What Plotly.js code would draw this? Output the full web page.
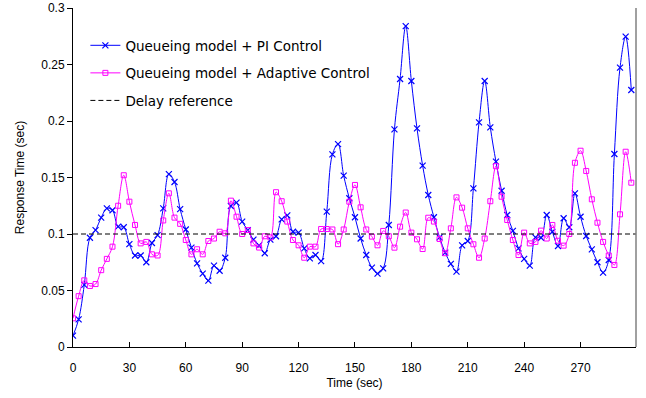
<!DOCTYPE html>
<html>
<head>
<meta charset="utf-8">
<script src="https://cdn.plot.ly/plotly-3.0.1.min.js"></script>
<style>html,body{margin:0;padding:0;background:#fff;}#chart{width:646px;height:398px;}</style>
</head>
<body>
<div id="chart"></div>
<script>
// time stamps (sec), one sample every 3 s
var timeSec = [];
for (var i = 0; i < 100; i++) timeSec.push(i * 3);

var piControl = [
  0.010, 0.0245, 0.055, 0.0967, 0.1035, 0.1145, 0.1227, 0.121, 0.1065, 0.106,
  0.091, 0.081, 0.081, 0.075, 0.092, 0.099, 0.1227, 0.153, 0.146, 0.122,
  0.104, 0.088, 0.074, 0.065, 0.0587, 0.072, 0.0675, 0.079, 0.1248, 0.1277,
  0.111, 0.1035, 0.095, 0.090, 0.083, 0.095, 0.098, 0.113, 0.1165, 0.102,
  0.1012, 0.0873, 0.0785, 0.0814, 0.076, 0.1198, 0.1705, 0.1796, 0.1516, 0.1316,
  0.1148, 0.096, 0.0814, 0.0702, 0.065, 0.0696, 0.108, 0.1926, 0.2372, 0.284,
  0.2354, 0.1935, 0.1605, 0.1345, 0.1148, 0.097, 0.0835, 0.0735, 0.0667, 0.090,
  0.0938, 0.1404, 0.1988, 0.2354, 0.1944, 0.164, 0.1383, 0.1168, 0.1027, 0.0873,
  0.078, 0.072, 0.097, 0.0967, 0.1168, 0.102, 0.0894, 0.1139, 0.106, 0.136,
  0.1153, 0.0982, 0.0864, 0.075, 0.0658, 0.077, 0.1708, 0.2472, 0.2746, 0.2274
];

var adaptiveControl = [
  0.0254, 0.045, 0.059, 0.054, 0.0557, 0.068, 0.078, 0.0888, 0.125, 0.152,
  0.1286, 0.108, 0.0917, 0.093, 0.082, 0.081, 0.112, 0.136, 0.1145, 0.109,
  0.0947, 0.082, 0.0865, 0.082, 0.0938, 0.096, 0.102, 0.1006, 0.1295, 0.1153,
  0.100, 0.1035, 0.0917, 0.088, 0.098, 0.097, 0.137, 0.129, 0.111, 0.0947,
  0.090, 0.079, 0.0888, 0.0888, 0.1044, 0.1044, 0.104, 0.091, 0.104, 0.1286,
  0.1434, 0.1236, 0.104, 0.0977, 0.090, 0.1027, 0.098, 0.0879, 0.1065, 0.119,
  0.1012, 0.0953, 0.0867, 0.1144, 0.111, 0.0956, 0.083, 0.105, 0.1324, 0.1233,
  0.105, 0.0909, 0.079, 0.096, 0.129, 0.160, 0.133, 0.1124, 0.0947, 0.0814,
  0.1012, 0.0917, 0.093, 0.103, 0.096, 0.108, 0.094, 0.0897, 0.100, 0.163,
  0.1737, 0.1558, 0.1307, 0.110, 0.093, 0.081, 0.0726, 0.1174, 0.1728, 0.1454
];

var refX = [0, 299.5];
var refY = [0.1, 0.1];

var xTicks = [0, 30, 60, 90, 120, 150, 180, 210, 240, 270];
var yTicks = [0, 0.05, 0.1, 0.15, 0.2, 0.25, 0.3];
var yTickText = ['0', '0.05', '0.1', '0.15', '0.2', '0.25', '0.3'];

var font = "Liberation Sans, Arial, sans-serif";
var legendFont = "DejaVu Sans, sans-serif";

var traces = [
  {
    x: timeSec, y: piControl, type: 'scatter', mode: 'lines+markers',
    name: 'Queueing model + PI Control', legendgroup: 'a',
    line: {color: '#0000FF', width: 1, shape: 'spline', smoothing: 1},
    marker: {symbol: 'x-thin-open', size: 6, color: '#0000FF', line: {color: '#0000FF', width: 1.2}}
  },
  {
    x: timeSec, y: adaptiveControl, type: 'scatter', mode: 'lines+markers',
    name: 'Queueing model + Adaptive Control', legendgroup: 'b',
    line: {color: '#FF00FF', width: 1, shape: 'spline', smoothing: 1},
    marker: {symbol: 'square-open', size: 5, color: '#FF00FF', line: {color: '#FF00FF', width: 1}}
  },
  {
    x: refX, y: refY, type: 'scatter', mode: 'lines',
    name: 'Delay reference', legendgroup: 'c',
    line: {color: '#000000', width: 1, dash: '5px,3px'}
  }
];

var layout = {
  width: 646, height: 398,
  margin: {l: 73, r: 10, t: 8, b: 51},
  paper_bgcolor: '#ffffff', plot_bgcolor: '#ffffff',
  font: {family: font, size: 12, color: '#000'},
  showlegend: true,
  legend: {
    x: 0.022, y: 0.935, xanchor: 'left', yanchor: 'top',
    bgcolor: 'rgba(0,0,0,0)', borderwidth: 0,
    font: {family: legendFont, size: 13.5, color: '#000'},
    traceorder: 'grouped', tracegroupgap: 7
  },
  xaxis: {
    range: [0, 299.5], tickvals: xTicks, ticktext: xTicks.map(String),
    showgrid: false, zeroline: false, showline: true, linecolor: '#000', linewidth: 1,
    ticks: 'inside', ticklen: 5, tickcolor: '#000', ticklabelstandoff: 10,
    tickfont: {family: font, size: 12},
    title: {text: 'Time (sec)', font: {family: font, size: 12}, standoff: 4}
  },
  yaxis: {
    range: [0, 0.3], tickvals: yTicks, ticktext: yTickText,
    showgrid: false, zeroline: false, showline: true, linecolor: '#000', linewidth: 1,
    ticks: 'outside', ticklen: 5, tickcolor: '#000',
    tickfont: {family: font, size: 12},
    title: {text: 'Response Time (sec)', font: {family: font, size: 12}, standoff: 14}
  },
  shapes: [
    {type: 'line', xref: 'paper', yref: 'paper', x0: 1, x1: 1, y0: 0, y1: 1,
     line: {color: '#808080', width: 1.5}}
  ]
};

Plotly.newPlot('chart', traces, layout, {displayModeBar: false, staticPlot: true});
</script>
</body>
</html>
